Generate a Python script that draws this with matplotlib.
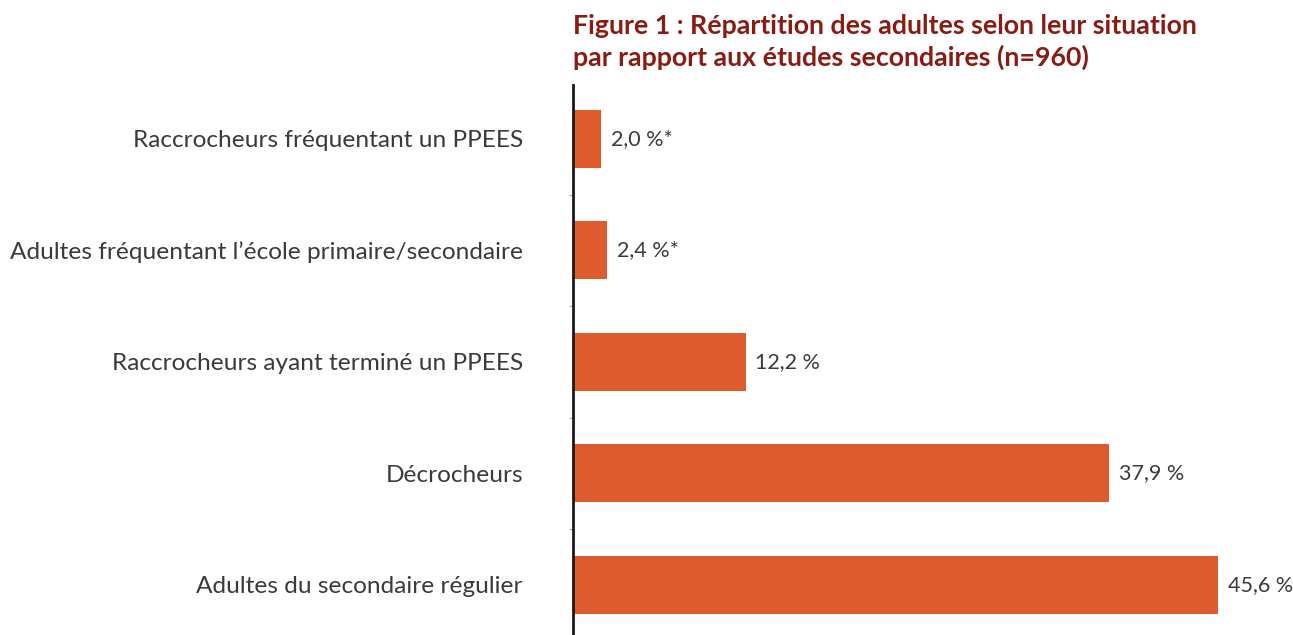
import matplotlib
matplotlib.use("Agg")
import matplotlib.pyplot as plt
from matplotlib.ticker import FixedLocator

categories = [
    "Raccrocheurs fréquentant un PPEES",
    "Adultes fréquentant l’école primaire/secondaire",
    "Raccrocheurs ayant terminé un PPEES",
    "Décrocheurs",
    "Adultes du secondaire régulier",
]
values = [2.0, 2.4, 12.2, 37.9, 45.6]
value_labels = ["2,0 %*", "2,4 %*", "12,2 %", "37,9 %", "45,6 %"]
title = "Figure 1 : Répartition des adultes selon leur situation\npar rapport aux études secondaires (n=960)"

W, H = 1293, 635
fig = plt.figure(figsize=(W / 100, H / 100), dpi=100)
ax_left = 573 / W
ax = fig.add_axes([ax_left, 0, 1 - ax_left, 1 - 85 / H])

bar_color = "#DF5A2C"
ypos = list(range(len(categories)))
ax.barh(ypos, values, height=0.52, color=bar_color)

ax.set_xlim(0, (W - 573) / 14.15)
ax.set_ylim(4.449, -0.484)

for sp in ["top", "right", "bottom"]:
    ax.spines[sp].set_visible(False)
ax.spines["left"].set_color("#1a1a1a")
ax.spines["left"].set_linewidth(2)
ax.set_xticks([])

ax.set_yticks(ypos)
ax.set_yticklabels(categories, fontfamily="Lato", fontweight="normal",
                   fontsize=17.6, color="#3a3a3a")
ax.tick_params(axis="y", which="major", length=0, pad=36)
ax.yaxis.set_minor_locator(FixedLocator([0.5, 1.5, 2.5, 3.5]))
ax.tick_params(axis="y", which="minor", length=3, width=0.8, color="#aaaaaa")

for y, v, lab in zip(ypos, values, value_labels):
    ax.annotate(lab, xy=(v, y), xytext=(7, 0), textcoords="offset points",
                va="center", ha="left", fontfamily="Lato", fontweight="normal",
                fontsize=15.5, color="#3a3a3a")

fig.text(ax_left, 1 - 14 / H, title, ha="left", va="top",
         fontfamily="Lato", fontweight="bold", fontsize=19.3,
         color="#8A1B12", linespacing=1.3)

fig.savefig("out.png", dpi=100)
